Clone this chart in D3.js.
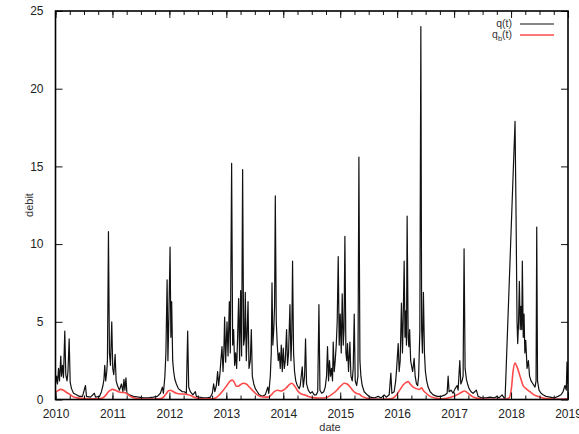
<!DOCTYPE html>
<html><head><meta charset="utf-8">
<script src="https://cdn.jsdelivr.net/npm/d3@7"></script>
<style>html,body{margin:0;padding:0;background:#fff}svg{display:block}</style>
</head><body>
<svg id="chart" width="579" height="434"></svg>
<script>
// ---- data (decimal years, debit) ----
const qTime = [2010.000,2010.018,2010.035,2010.053,2010.070,2010.093,2010.105,2010.123,2010.140,2010.163,2010.181,2010.202,2010.219,2010.240,2010.258,2010.281,2010.316,2010.368,2010.421,2010.474,2010.526,2010.544,2010.614,2010.684,2010.702,2010.772,2010.807,2010.833,2010.851,2010.865,2010.882,2010.900,2010.912,2010.930,2010.947,2010.965,2010.988,2011.005,2011.023,2011.047,2011.065,2011.088,2011.123,2011.158,2011.184,2011.202,2011.219,2011.237,2011.254,2011.298,2011.368,2011.456,2011.544,2011.632,2011.719,2011.789,2011.842,2011.877,2011.895,2011.921,2011.939,2011.960,2011.974,2011.991,2012.012,2012.026,2012.040,2012.058,2012.075,2012.096,2012.123,2012.158,2012.193,2012.228,2012.263,2012.298,2012.321,2012.339,2012.368,2012.412,2012.456,2012.474,2012.526,2012.596,2012.667,2012.719,2012.754,2012.777,2012.798,2012.825,2012.847,2012.865,2012.886,2012.904,2012.924,2012.942,2012.956,2012.970,2012.988,2013.012,2013.030,2013.053,2013.070,2013.093,2013.111,2013.128,2013.146,2013.163,2013.181,2013.198,2013.216,2013.233,2013.251,2013.268,2013.286,2013.304,2013.321,2013.333,2013.351,2013.381,2013.398,2013.421,2013.439,2013.456,2013.482,2013.509,2013.544,2013.579,2013.632,2013.684,2013.728,2013.746,2013.772,2013.789,2013.802,2013.816,2013.833,2013.847,2013.860,2013.877,2013.895,2013.912,2013.930,2013.947,2013.965,2013.982,2014.000,2014.018,2014.035,2014.058,2014.075,2014.093,2014.117,2014.135,2014.149,2014.163,2014.181,2014.198,2014.219,2014.246,2014.281,2014.298,2014.333,2014.351,2014.374,2014.391,2014.409,2014.439,2014.474,2014.509,2014.544,2014.579,2014.605,2014.626,2014.644,2014.675,2014.711,2014.737,2014.760,2014.777,2014.795,2014.812,2014.830,2014.847,2014.865,2014.877,2014.895,2014.912,2014.930,2014.947,2014.965,2014.982,2015.000,2015.018,2015.035,2015.053,2015.067,2015.082,2015.100,2015.114,2015.128,2015.146,2015.170,2015.188,2015.211,2015.228,2015.246,2015.263,2015.289,2015.311,2015.328,2015.346,2015.363,2015.386,2015.421,2015.474,2015.526,2015.596,2015.667,2015.719,2015.772,2015.807,2015.860,2015.889,2015.907,2015.947,2015.974,2015.991,2016.018,2016.035,2016.053,2016.075,2016.093,2016.105,2016.123,2016.137,2016.153,2016.163,2016.175,2016.193,2016.205,2016.219,2016.237,2016.251,2016.272,2016.298,2016.316,2016.339,2016.360,2016.377,2016.398,2016.416,2016.430,2016.444,2016.461,2016.479,2016.496,2016.518,2016.544,2016.579,2016.632,2016.702,2016.772,2016.842,2016.877,2016.895,2016.912,2016.947,2016.982,2017.018,2017.053,2017.070,2017.100,2017.118,2017.140,2017.158,2017.175,2017.193,2017.216,2017.237,2017.263,2017.298,2017.333,2017.391,2017.421,2017.491,2017.561,2017.632,2017.702,2017.754,2017.789,2017.842,2017.877,2017.895,2018.070,2018.088,2018.105,2018.117,2018.132,2018.146,2018.161,2018.175,2018.188,2018.198,2018.214,2018.228,2018.242,2018.258,2018.281,2018.304,2018.325,2018.351,2018.386,2018.421,2018.439,2018.451,2018.465,2018.491,2018.526,2018.561,2018.614,2018.684,2018.754,2018.825,2018.877,2018.912,2018.947,2018.970,2018.982,2019.000];
const qValue = [1.0,1.5,1.0,2.0,1.2,2.8,1.5,2.2,1.4,4.4,1.6,1.2,1.8,3.9,1.1,0.7,0.4,0.3,0.2,0.2,0.9,0.2,0.15,0.4,0.15,0.2,0.5,0.9,1.3,2.2,1.2,1.8,2.5,10.8,3.0,2.2,5.0,2.0,1.6,2.9,1.2,0.9,0.6,1.0,0.5,1.3,0.6,1.4,0.4,0.3,0.2,0.15,0.1,0.1,0.15,0.2,0.4,0.8,0.4,1.5,3.0,7.7,2.5,5.3,9.8,4.0,6.3,2.5,1.8,1.3,1.0,0.7,0.6,0.5,0.5,0.4,4.4,0.8,0.5,0.3,0.5,0.2,0.15,0.1,0.1,0.15,0.4,1.0,0.5,0.9,1.8,0.9,1.6,2.5,3.4,1.8,3.0,5.3,2.4,5.0,2.8,6.3,3.0,15.2,3.5,4.5,2.2,3.0,2.0,4.0,6.5,2.5,7.0,2.8,14.8,3.5,4.0,6.9,2.5,6.3,2.0,2.5,4.5,1.5,1.0,0.7,0.5,0.3,0.2,0.3,0.8,0.4,1.5,3.0,7.5,3.5,4.5,6.0,13.1,5.0,3.5,2.5,3.0,2.0,3.5,1.8,3.3,2.0,2.5,4.5,2.2,3.0,6.1,2.5,4.0,8.9,3.0,1.8,1.2,0.9,0.7,0.9,2.1,0.8,1.5,3.9,1.0,0.6,0.4,0.5,0.3,0.3,0.5,6.1,0.6,0.4,0.5,0.8,1.5,3.4,1.2,2.5,1.5,2.0,1.2,3.7,1.8,2.5,3.5,5.0,9.2,3.5,5.5,3.0,6.8,3.5,4.5,10.5,3.0,2.5,3.6,1.8,3.7,1.5,1.2,2.0,5.5,1.2,0.9,1.5,15.6,2.5,1.5,0.9,0.5,0.3,0.15,0.1,0.2,0.1,0.3,0.15,0.3,1.7,0.4,0.5,1.2,2.0,3.6,1.8,2.5,6.2,3.0,5.0,8.9,4.0,5.7,3.5,11.8,4.0,3.4,4.5,2.5,2.2,1.8,2.65,1.5,1.0,0.9,1.5,4.4,24.0,4.5,3.0,6.9,3.0,1.8,1.2,0.8,0.5,0.3,0.2,0.2,0.3,0.4,1.5,0.5,0.6,0.4,0.7,0.9,0.6,2.5,1.0,1.2,1.5,9.7,2.0,1.3,1.0,0.7,0.5,0.4,0.6,0.2,0.1,0.1,0.15,0.1,0.2,0.1,0.3,0.1,0.05,17.9,11.8,5.0,3.6,5.0,7.6,4.5,6.0,4.5,8.9,4.0,5.5,3.0,3.8,2.0,2.5,1.5,1.2,1.0,0.8,1.2,11.1,1.2,0.6,0.4,0.3,0.2,0.15,0.1,0.2,0.3,0.5,0.9,0.6,2.4,1.0];

const qbTime = [2010.000,2010.035,2010.088,2010.140,2010.193,2010.246,2010.298,2010.368,2010.474,2010.614,2010.754,2010.825,2010.877,2010.930,2010.965,2011.000,2011.053,2011.105,2011.158,2011.211,2011.263,2011.316,2011.386,2011.491,2011.667,2011.807,2011.877,2011.930,2011.982,2012.018,2012.070,2012.123,2012.193,2012.263,2012.333,2012.404,2012.474,2012.579,2012.719,2012.807,2012.877,2012.947,2013.018,2013.070,2013.105,2013.140,2013.175,2013.211,2013.246,2013.298,2013.351,2013.404,2013.456,2013.526,2013.596,2013.684,2013.737,2013.789,2013.842,2013.895,2013.947,2014.000,2014.053,2014.105,2014.149,2014.193,2014.246,2014.298,2014.368,2014.439,2014.526,2014.614,2014.702,2014.772,2014.842,2014.912,2014.965,2015.018,2015.070,2015.123,2015.175,2015.228,2015.281,2015.333,2015.386,2015.456,2015.561,2015.702,2015.842,2015.930,2015.991,2016.044,2016.105,2016.158,2016.193,2016.228,2016.281,2016.333,2016.386,2016.430,2016.456,2016.509,2016.579,2016.667,2016.789,2016.895,2016.982,2017.053,2017.123,2017.184,2017.246,2017.316,2017.404,2017.544,2017.719,2017.895,2017.965,2018.009,2018.035,2018.070,2018.105,2018.158,2018.211,2018.263,2018.333,2018.404,2018.474,2018.561,2018.684,2018.860,2019.000];
const qbValue = [0.45,0.55,0.65,0.6,0.45,0.35,0.2,0.12,0.07,0.05,0.05,0.1,0.25,0.5,0.6,0.65,0.6,0.5,0.45,0.45,0.35,0.2,0.1,0.05,0.03,0.05,0.1,0.3,0.55,0.6,0.5,0.4,0.35,0.35,0.3,0.2,0.1,0.05,0.04,0.1,0.3,0.6,0.95,1.2,1.25,1.1,0.85,0.85,0.95,1.05,1.0,0.8,0.6,0.35,0.2,0.15,0.15,0.3,0.5,0.6,0.55,0.6,0.75,0.95,1.05,0.9,0.6,0.4,0.3,0.2,0.12,0.1,0.1,0.15,0.3,0.5,0.7,0.9,1.05,1.0,0.8,0.55,0.4,0.35,0.2,0.1,0.03,0.02,0.03,0.1,0.3,0.6,0.93,1.1,1.15,1.0,0.8,0.7,0.65,0.75,0.6,0.4,0.2,0.1,0.05,0.1,0.2,0.3,0.45,0.55,0.4,0.2,0.08,0.03,0.02,0.02,0.1,0.8,1.8,2.35,2.1,1.5,0.9,0.7,0.5,0.3,0.2,0.1,0.05,0.03,0.05];

const yearTicks = [2010,2011,2012,2013,2014,2015,2016,2017,2018,2019];
const debitTicks = [0,5,10,15,20,25];
const seriesColors = ["#111111","#ff4a4a"];

// ---- layout ----
const svg = d3.select("#chart");
const L = 55.5, R = 568, T = 11, B = 399.5;
const x = d3.scaleLinear().domain([2010, 2019]).range([L, R]);
const y = d3.scaleLinear().domain([0, 25]).range([B, T]);
const font = "'Liberation Sans', Arial, sans-serif";

svg.append("clipPath").attr("id","clip").append("rect")
  .attr("x", L).attr("y", T).attr("width", R-L).attr("height", B-T);

const line = d3.line().x(d => x(d[0])).y(d => y(d[1]));
const qData = qTime.map((t,i) => [t, qValue[i]]);
const qbData = qbTime.map((t,i) => [t, qbValue[i]]);

const g = svg.append("g").attr("clip-path","url(#clip)");
g.append("path").datum(qData).attr("d", line)
  .attr("fill","none").attr("stroke",seriesColors[0]).attr("stroke-width",1.2).attr("stroke-linejoin","round");
g.append("path").datum(qbData).attr("d", line.curve(d3.curveMonotoneX))
  .attr("fill","none").attr("stroke",seriesColors[1]).attr("stroke-width",1.6);

// axes: ticks inward, mirrored
const minorTicks = d3.range(2010, 2019.001, 0.25);
const axB = d3.axisBottom(x).tickValues(yearTicks).tickSize(-7).tickPadding(10).tickFormat(d3.format("d"));
const axT = d3.axisTop(x).tickValues(yearTicks).tickSize(-7).tickFormat("");
const axL = d3.axisLeft(y).tickValues(debitTicks).tickSize(-7).tickPadding(12);
const axR = d3.axisRight(y).tickValues(debitTicks).tickSize(-7).tickFormat("");
const mB = d3.axisBottom(x).tickValues(minorTicks).tickSize(-4).tickFormat("");
const mT = d3.axisTop(x).tickValues(minorTicks).tickSize(-4).tickFormat("");

function style(sel){
  sel.select(".domain").remove();
  sel.selectAll("line").attr("stroke","#111").attr("stroke-width",1);
  sel.selectAll("text").attr("font-family",font).attr("font-size",12).attr("fill","#222");
}
svg.append("g").attr("transform",`translate(0,${B})`).call(mB).call(style);
svg.append("g").attr("transform",`translate(0,${T})`).call(mT).call(style);
svg.append("g").attr("transform",`translate(0,${B})`).call(axB).call(style);
svg.append("g").attr("transform",`translate(0,${T})`).call(axT).call(style);
svg.append("g").attr("transform",`translate(${L},0)`).call(axL).call(style);
svg.append("g").attr("transform",`translate(${R},0)`).call(axR).call(style);

svg.append("rect").attr("x",L).attr("y",T).attr("width",R-L).attr("height",B-T)
  .attr("fill","none").attr("stroke","#000").attr("stroke-width",1.6);

// axis titles
svg.append("text").attr("x", 330).attr("y", 431).attr("text-anchor","middle")
  .attr("font-family",font).attr("font-size",11).attr("fill","#333").text("date");
svg.append("text").attr("transform","translate(33,205) rotate(-90)").attr("text-anchor","middle")
  .attr("font-family",font).attr("font-size",11).attr("fill","#333").text("debit");

// legend
const leg = svg.append("g");
leg.append("text").attr("x",512).attr("y",27).attr("text-anchor","end")
  .attr("font-family",font).attr("font-size",10.5).attr("fill","#333").text("q(t)");
const lt2 = leg.append("text").attr("x",512).attr("y",38).attr("text-anchor","end")
  .attr("font-family",font).attr("font-size",10.5).attr("fill","#333");
lt2.append("tspan").text("q");
lt2.append("tspan").attr("font-size",7.5).attr("dy",2.5).text("b");
lt2.append("tspan").attr("dy",-2.5).text("(t)");
leg.append("line").attr("x1",520).attr("x2",554).attr("y1",24).attr("y2",24)
  .attr("stroke",seriesColors[0]).attr("stroke-width",1.1);
leg.append("line").attr("x1",520).attr("x2",554).attr("y1",35).attr("y2",35)
  .attr("stroke",seriesColors[1]).attr("stroke-width",1.6);
</script>
</body></html>
